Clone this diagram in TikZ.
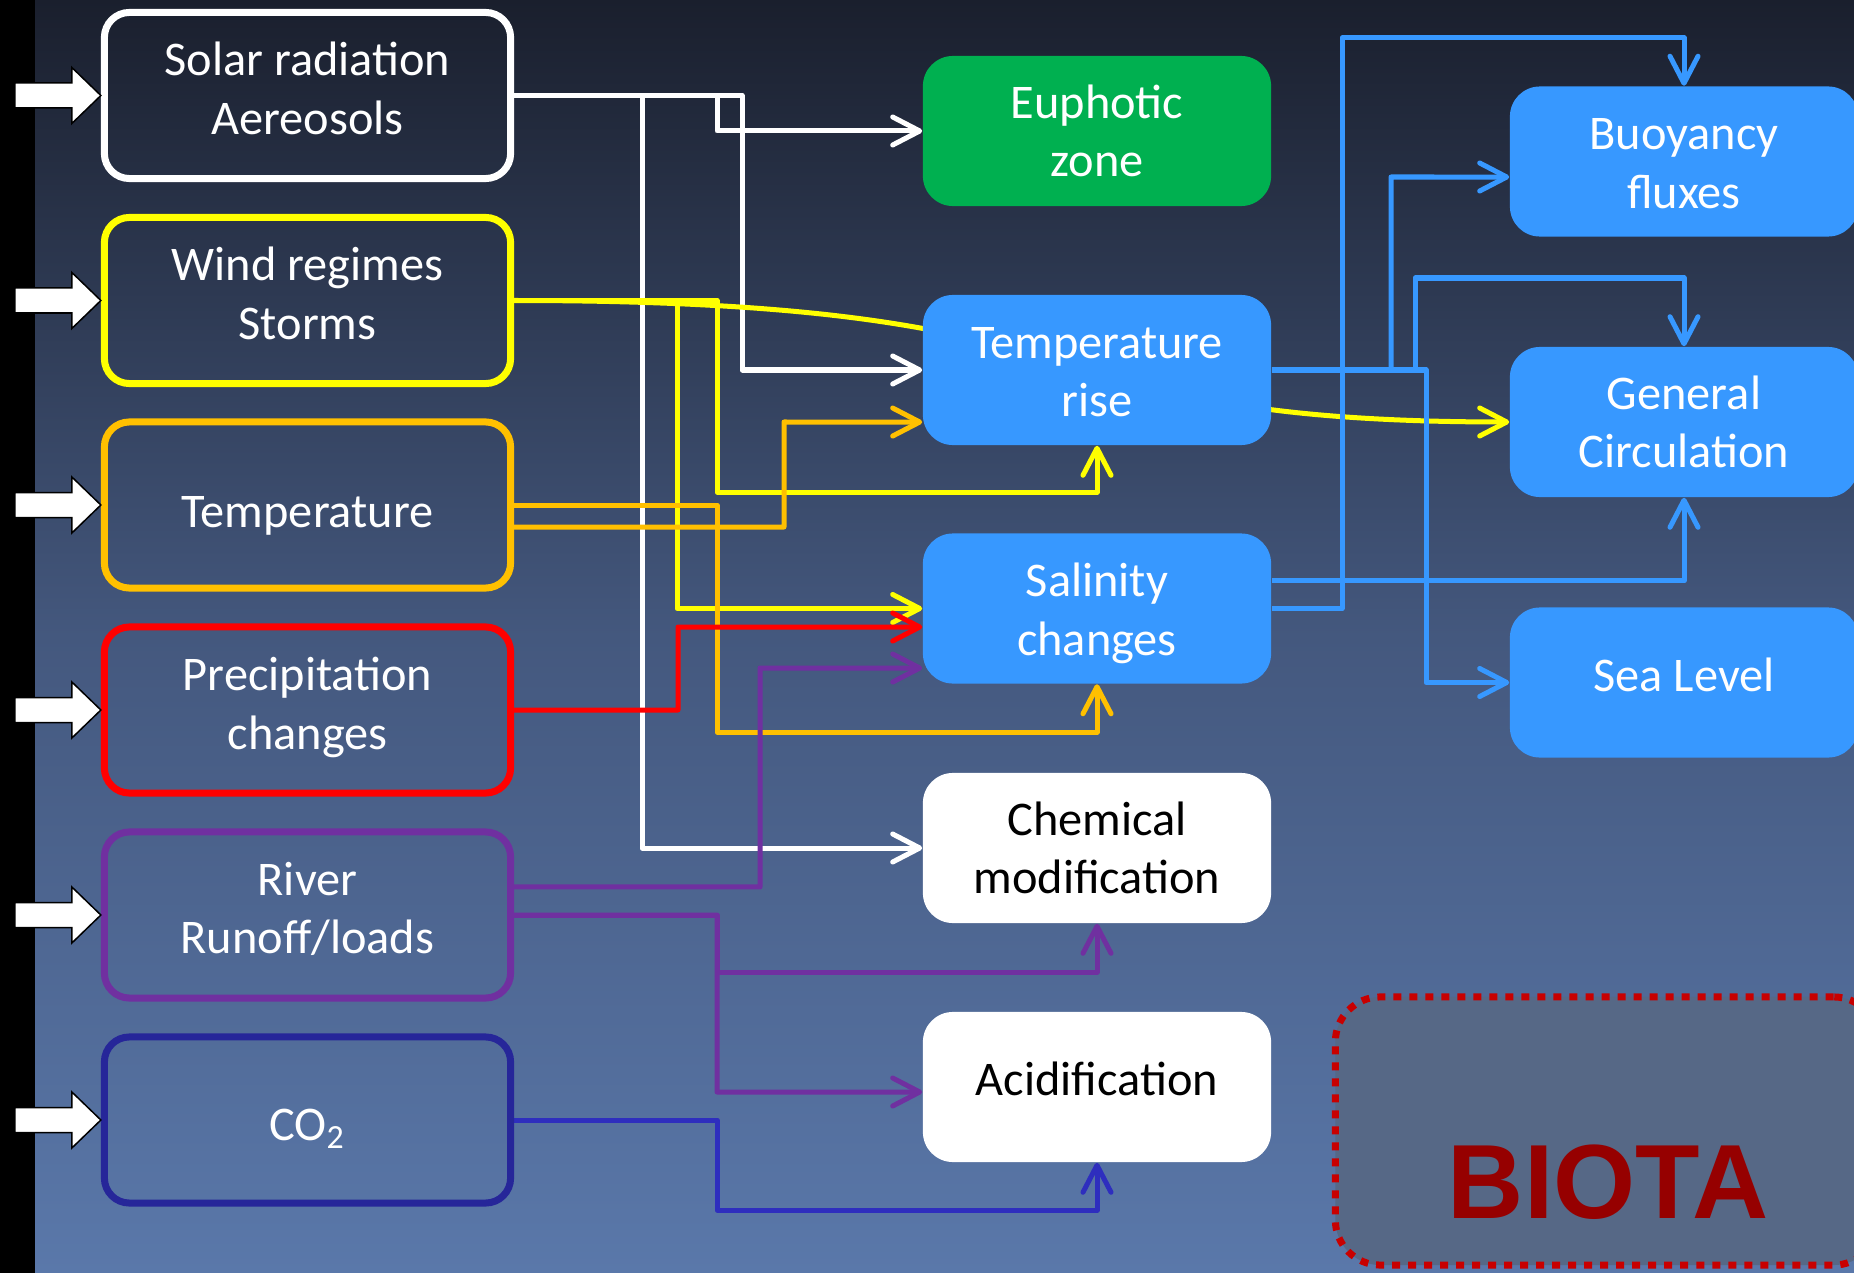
\documentclass[tikz,border=0pt]{standalone}
\usepackage{fontspec}
\setmainfont{Carlito}
\newfontfamily\biotafont{Liberation Sans}
\usetikzlibrary{arrows.meta}
\definecolor{bgtop}{RGB}{26,31,45}
\definecolor{bgmid}{RGB}{68,88,126}
\definecolor{bgbot}{RGB}{90,120,170}
\definecolor{cyel}{RGB}{255,255,0}
\definecolor{corg}{RGB}{255,192,0}
\definecolor{cred}{RGB}{255,0,0}
\definecolor{cpur}{RGB}{112,48,160}
\definecolor{cnavy}{RGB}{38,38,153}
\definecolor{cnavyl}{RGB}{46,46,190}
\definecolor{cblue}{RGB}{55,152,255}
\definecolor{cgreen}{RGB}{0,176,80}
\definecolor{cbiota}{RGB}{150,0,0}
\definecolor{cdots}{RGB}{200,0,0}
\definecolor{cbiofill}{RGB}{86,104,134}
\pgfdeclarelayer{bgl}
\pgfdeclarelayer{lines}
\pgfsetlayers{bgl,lines,main}
\begin{document}
\begin{tikzpicture}[x=0.01cm,y=-0.01cm,
 lbox/.style={draw=#1, line width=0.07cm, rounded corners=0.25cm, minimum width=4.06cm, minimum height=1.66cm, inner sep=0},
 mbox/.style={fill=#1, rounded corners=0.3cm, minimum width=3.48cm, minimum height=1.5cm, inner sep=0},
 btxt/.style={text=#1, align=center, font=\fontsize{13.75pt}{16.6pt}\selectfont, inner sep=0},
 conn/.style={draw=#1, line width=0.05cm, line join=round, -{Straight Barb[length=0.27cm,width=0.28cm,round]}},
 blockarr/.style={fill=white, draw=black, line width=0.015cm},
]
\useasboundingbox (0,0) rectangle (1854,1273);
\begin{pgfonlayer}{bgl}
\shade[top color=bgtop, bottom color=bgbot, middle color=bgmid] (0,0) rectangle (1854,1273);
\fill[black] (0,0) rectangle (35,1273);
\end{pgfonlayer}

% left column
\node[lbox=white] (solar) at (307.5,95.5) {};
\node[btxt=white, yshift=0.07cm] (solart) at (solar.center) {Solar radiation\\Aereosols};
\node[lbox=cyel] (wind) at (307.5,300.5) {};
\node[btxt=white, yshift=0.07cm] (windt) at (wind.center) {Wind regimes\\Storms};
\node[lbox=corg] (temp) at (307.5,505) {};
\node[btxt=white, yshift=-0.11cm] (tempt) at (temp.center) {Temperature};
\node[lbox=cred] (precip) at (307.5,710) {};
\node[btxt=white, yshift=0.025cm] (precipt) at (precip.center) {Precipitation\\changes};
\node[lbox=cpur] (river) at (307.5,915) {};
\node[btxt=white, yshift=0.06cm] (rivert) at (river.center) {River\\Runoff/loads};
\node[lbox=cnavy] (co2) at (307.5,1120) {};
\node[btxt=white, yshift=-0.09cm] (co2t) at (co2.center) {CO\textsubscript{2}};

\foreach \n in {solar,wind,temp,precip,river,co2}
  \draw[blockarr, shift={(\n.west)}] (-86,-12.5) -- (-29,-12.5) -- (-29,-28) -- (0,0) -- (-29,28) -- (-29,12.5) -- (-86,12.5) -- cycle;

% middle column
\node[mbox=cgreen] (euph) at (1097,131) {};
\node[btxt=white] (eupht) at (euph.center) {Euphotic\\zone};
\node[mbox=cblue] (trise) at (1097,370) {};
\node[btxt=white, yshift=-0.02cm] (triset) at (trise.center) {Temperature\\rise};
\node[mbox=cblue] (sal) at (1097,608.5) {};
\node[btxt=white, yshift=-0.05cm] (salt) at (sal.center) {Salinity\\changes};
\node[mbox=white] (chem) at (1097,848) {};
\node[btxt=black] (chemt) at (chem.center) {Chemical\\modification};
\node[mbox=white] (acid) at (1097,1087) {};
\node[btxt=black, yshift=0.085cm] (acidt) at (acid.center) {Acidification};

% right column
\node[mbox=cblue] (buoy) at (1684,161.5) {};
\node[btxt=white, yshift=-0.02cm] (buoyt) at (buoy.center) {Buoyancy\\fluxes};
\node[mbox=cblue] (genc) at (1684,422) {};
\node[btxt=white] (genct) at (genc.center) {General\\Circulation};
\node[mbox=cblue] (sea) at (1684,682.5) {};
\node[btxt=white, yshift=0.075cm] (seat) at (sea.center) {Sea Level};

% biota
\node[draw=cdots, fill=cbiofill, line width=0.07cm, dash pattern=on 0.08cm off 0.08cm, rounded corners=0.45cm, minimum width=5.43cm, minimum height=2.68cm, inner sep=0] (biota) at (1607,1131) {};
\node[anchor=base, text=cbiota, font=\biotafont\bfseries\fontsize{30pt}{31pt}\selectfont, inner sep=0] (biotat) at (1608,1218) {BIOTA};

% connectors
\begin{pgfonlayer}{lines}
\draw[conn=white] (solar.east) -| (717,131) -- (euph.west);
\draw[conn=white] (solar.east) -| (742,370) -- (trise.west);
\draw[conn=white] (solar.east) -| (642,848) -- (chem.west);
\draw[conn=cyel] (wind.east) .. controls (1150,300.5) and (1000,422) .. (genc.west);
\draw[conn=cyel] (wind.east) -| (717,492) -| (trise.south);
\draw[conn=cyel] (wind.east) -| (677,608.5) -- (sal.west);
\draw[conn=corg] (temp.east) -| (717,732) -| (sal.south);
\draw[conn=corg] ([yshift=-0.22cm]temp.east) -| (784,422) -- ([yshift=-0.52cm]trise.west);
\draw[conn=cred] (precip.east) -| (678,627) -- ([yshift=-0.185cm]sal.west);
\draw[conn=cpur] ([yshift=0.28cm]river.east) -| (760,668) -- ([yshift=-0.595cm]sal.west);
\draw[conn=cpur] (river.east) -| (717,972) -| (chem.south);
\draw[conn=cpur] (river.east) -| (717,1092) -- ([yshift=-0.05cm]acid.west);
\draw[conn=cnavyl] (co2.east) -| (717,1210) -| (acid.south);
\draw[conn=cblue] (trise.east) -| (1391,177) -- ([yshift=-0.155cm]buoy.west);
\draw[conn=cblue] (trise.east) -| (1415,278) -| (genc.north);
\draw[conn=cblue] (trise.east) -| (1426,682.5) -- (sea.west);
\draw[conn=cblue] (sal.east) -| (1342,38) -| (buoy.north);
\draw[conn=cblue] ([yshift=0.275cm]sal.east) -| (genc.south);
\end{pgfonlayer}
\end{tikzpicture}
\end{document}
